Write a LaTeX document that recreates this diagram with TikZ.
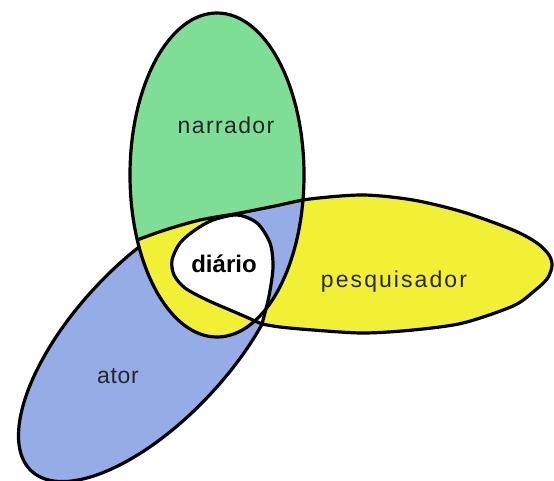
\documentclass[tikz,border=0pt]{standalone}
\usepackage{fontspec}
\setmainfont{Liberation Sans}
\usepackage{tikz}
\definecolor{narrgreen}{RGB}{126,222,150}
\definecolor{pesqyellow}{RGB}{242,240,52}
\definecolor{atorblue}{RGB}{150,172,230}

\begin{document}
\begin{tikzpicture}[x=1pt, y=-1pt,
    outline/.style={draw=black, line width=3.2pt, line join=round},
    tag/.style={font=\fontsize{23}{27}\selectfont\addfontfeature{LetterSpace=6},
        text=black!85, inner sep=0pt, anchor=base}
]
\useasboundingbox[fill=white] (0,0) rectangle (554,480);

% ator
\draw[outline, fill=atorblue, rotate around={47:(152.8,340.8)}]
    (152.8,340.8) ellipse [x radius=178, y radius=78.5];
% narrador
\fill[narrgreen] (217,175) ellipse [x radius=87, y radius=162];
\begin{scope}
  \clip (217,175) ellipse [x radius=87, y radius=162];
  \fill[pesqyellow] (100,254) -- plot[smooth] coordinates {(137,240) (165,230) (200,220) (240,213) (275,206) (310,199) (363,195)}
      -- (363,480) -- (100,480) -- cycle;
\end{scope}
% pesquisador
\fill[pesqyellow] plot[smooth] coordinates {(137,240) (165,230) (200,220) (240,213) (275,206) (310,199) (363,195) (413,200)
    (463,212) (513,230) (537,243) (549,255) (552,266) (547,279) (533,292) (513,306) (463,323) (413,330) (363,333) (313,330) (280,327) (262,324)} -- cycle;
% ator dentro do narrador
\begin{scope}
  \clip (217,175) ellipse [x radius=87, y radius=162];
  \clip (100,254) -- plot[smooth] coordinates {(137,240) (165,230) (200,220) (240,213) (275,206) (310,199) (363,195)}
      -- (363,480) -- (100,480) -- cycle;
  \fill[atorblue] (238,200) -- (400,200) -- (400,480) -- (262,324) -- (265,290) -- (250,230) -- cycle;
\end{scope}
% diario
\filldraw[outline, fill=white] plot[smooth] coordinates {(262,324) (269,296) (273,267) (270,243) (257,223) (237,215)
    (213,220) (195,230) (180,243) (172,260) (174,275) (185,288) (207,300) (237,313) (262,324)} -- cycle;
% contornos
\draw[outline] (217,175) ellipse [x radius=87, y radius=162];
\draw[outline] plot[smooth] coordinates {(137,240) (165,230) (200,220) (240,213) (275,206) (310,199) (363,195) (413,200)
    (463,212) (513,230) (537,243) (549,255) (552,266) (547,279) (533,292) (513,306) (463,323) (413,330) (363,333) (313,330) (280,327) (262,324)};

\node[tag] (narrador) at (226,133) {narrador};
\node[tag, font=\fontsize{23}{27}\selectfont\addfontfeature{LetterSpace=9}] (pesquisador) at (394,287) {pesquisador};
\node[tag, font=\fontsize{23}{27}\selectfont\addfontfeature{LetterSpace=3}] (ator) at (118,383) {ator};
\node[tag, font=\fontsize{24}{28}\selectfont\bfseries, text=black] (diario) at (224,272) {diário};
\end{tikzpicture}
\end{document}
